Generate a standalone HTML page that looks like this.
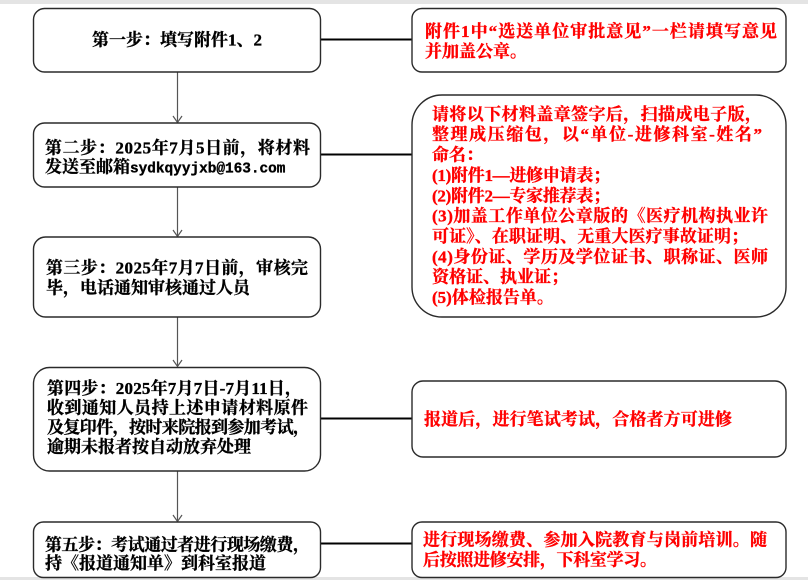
<!DOCTYPE html>
<html>
<head>
<meta charset="utf-8">
<style>
  html,body{margin:0;padding:0;background:#fff;}
  svg{display:block;}
  text{font-family:"Liberation Serif","Noto Serif CJK SC",serif;font-size:17px;font-weight:bold;stroke-width:0.35px;}
  .k{fill:#000;stroke:#000;}
  .r{fill:#ff0000;stroke:#ff0000;}
  .m{font-family:"Liberation Mono","Noto Serif CJK SC",monospace;font-size:14.4px;}
</style>
</head>
<body>
<svg width="808" height="580" viewBox="0 0 808 580" xmlns="http://www.w3.org/2000/svg">
  <rect x="0" y="0" width="808" height="580" fill="#fff"/>
  <rect x="0" y="0" width="808" height="4" fill="#e4e4e4"/>
  <rect x="0" y="577" width="808" height="3" fill="#e4e4e4"/>

  <!-- horizontal connectors -->
  <g stroke="#000" stroke-width="2">
    <line x1="321" y1="39.5" x2="412" y2="39.5"/>
    <line x1="321" y1="154.5" x2="412" y2="154.5"/>
    <line x1="321" y1="418.5" x2="412" y2="418.5"/>
    <line x1="321" y1="543.5" x2="412" y2="543.5"/>
  </g>

  <!-- vertical arrows -->
  <g stroke="#555" stroke-width="1.2" fill="none">
    <line x1="177.5" y1="72" x2="177.5" y2="122"/>
    <polyline points="173,116 177.5,122.5 182,116"/>
    <line x1="177.5" y1="187" x2="177.5" y2="236"/>
    <polyline points="173,230 177.5,236.5 182,230"/>
    <line x1="177.5" y1="317" x2="177.5" y2="366"/>
    <polyline points="173,360 177.5,366.5 182,360"/>
    <line x1="177.5" y1="471" x2="177.5" y2="521"/>
    <polyline points="173,515 177.5,521.5 182,515"/>
  </g>

  <!-- left boxes -->
  <g fill="#fff" stroke="#2a2a2a" stroke-width="1.4">
    <rect x="33.5" y="8.5" width="287" height="63.5" rx="11"/>
    <rect x="33.5" y="123" width="287" height="64" rx="11"/>
    <rect x="33.5" y="237" width="287" height="80" rx="12"/>
    <rect x="33.5" y="367.5" width="287" height="103.5" rx="16"/>
    <rect x="33.5" y="522" width="287" height="55.5" rx="10"/>
  </g>

  <!-- right boxes -->
  <g fill="#fff" stroke="#2a2a2a" stroke-width="1.4">
    <rect x="412" y="8.5" width="374" height="63.5" rx="10"/>
    <rect x="412" y="95" width="374" height="222" rx="30"/>
    <rect x="412" y="381" width="374" height="76" rx="11"/>
    <rect x="412" y="522" width="374" height="55.5" rx="10"/>
  </g>

  <!-- left texts -->
  <text class="k" x="177" y="45.6" text-anchor="middle">第一步：填写附件1、2</text>

  <text class="k" x="45" y="153.3" textLength="265" lengthAdjust="spacing">第二步：2025年7月5日前，将材料</text>
  <text class="k" x="45" y="172.3">发送至邮箱<tspan class="m">sydkqyyjxb@163.com</tspan></text>

  <text class="k" x="46" y="273.3" textLength="262" lengthAdjust="spacing">第三步：2025年7月7日前，审核完</text>
  <text class="k" x="46" y="293.3">毕，电话通知审核通过人员</text>

  <text class="k" x="47" y="394" textLength="255" lengthAdjust="spacing">第四步：2025年7月7日-7月11日，</text>
  <text class="k" x="47" y="413.3" textLength="261" lengthAdjust="spacing">收到通知人员持上述申请材料原件</text>
  <text class="k" x="47" y="433" textLength="263" lengthAdjust="spacing">及复印件，按时来院报到参加考试，</text>
  <text class="k" x="47" y="452.6">逾期未报者按自动放弃处理</text>

  <text class="k" x="45" y="550.4" textLength="265" lengthAdjust="spacing">第五步：考试通过者进行现场缴费，</text>
  <text class="k" x="45" y="569">持《报道通知单》到科室报道</text>

  <!-- right texts -->
  <text class="r" x="425" y="36.8" textLength="352" lengthAdjust="spacing">附件1中“选送单位审批意见”一栏请填写意见</text>
  <text class="r" x="425" y="56.8">并加盖公章。</text>

  <text class="r" x="432" y="119.9" textLength="330" lengthAdjust="spacing">请将以下材料盖章签字后，扫描成电子版，</text>
  <text class="r" x="432" y="140.2" textLength="330" lengthAdjust="spacing">整理成压缩包，以“单位-进修科室-姓名”</text>
  <text class="r" x="432" y="160.6">命名：</text>
  <text class="r" x="432" y="180.9" textLength="178" lengthAdjust="spacing">(1)附件1—进修申请表；</text>
  <text class="r" x="432" y="201.3" textLength="178" lengthAdjust="spacing">(2)附件2—专家推荐表；</text>
  <text class="r" x="432" y="221.6" textLength="336" lengthAdjust="spacing">(3)加盖工作单位公章版的《医疗机构执业许</text>
  <text class="r" x="432" y="242" textLength="316" lengthAdjust="spacing">可证》、在职证明、无重大医疗事故证明；</text>
  <text class="r" x="432" y="262.3" textLength="336" lengthAdjust="spacing">(4)身份证、学历及学位证书、职称证、医师</text>
  <text class="r" x="432" y="282.7">资格证、执业证；</text>
  <text class="r" x="432" y="303">(5)体检报告单。</text>

  <text class="r" x="424" y="424.8" textLength="308" lengthAdjust="spacing">报道后，进行笔试考试，合格者方可进修</text>

  <text class="r" x="423" y="545.4" textLength="344" lengthAdjust="spacing">进行现场缴费、参加入院教育与岗前培训。随</text>
  <text class="r" x="423" y="565.4" textLength="234" lengthAdjust="spacing">后按照进修安排，下科室学习。</text>
</svg>
</body>
</html>
